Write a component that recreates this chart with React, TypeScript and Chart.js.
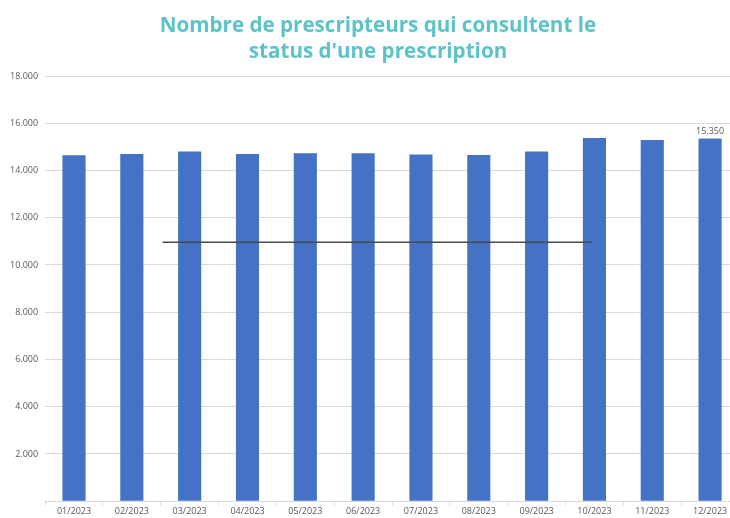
import React, { useEffect, useRef } from "react";
import { Chart, registerables } from "chart.js";

Chart.register(...registerables);

const TITLE_LINES = ["Nombre de prescripteurs qui consultent le", "status d'une prescription"];
const MONTHS = ["01/2023", "02/2023", "03/2023", "04/2023", "05/2023", "06/2023", "07/2023", "08/2023", "09/2023", "10/2023", "11/2023", "12/2023"];
const PRESCRIBERS = [14650, 14700, 14800, 14700, 14730, 14730, 14680, 14660, 14800, 15380, 15290, 15350];
const LINE_X = [1.53, 8.95];
const LINE_Y = [10960, 10960];
const Y_MAX = 18000;
const Y_STEP = 2000;
const LABELED_INDEX = 11;

const fmt = (v: number) => {
  const s = Math.round(v).toString();
  return s.replace(/\B(?=(\d{3})+(?!\d))/g, ".");
};

const titlePlugin = {
  id: "customTitle",
  afterDraw(chart: any) {
    const ctx = chart.ctx;
    ctx.save();
    ctx.font = "bold 20.6px 'Open Sans'";
    ctx.fillStyle = "#5cc3c8";
    ctx.textAlign = "center";
    ctx.textBaseline = "alphabetic";
    const cx = 378;
    TITLE_LINES.forEach((line, i) => ctx.fillText(line, cx, 32 + i * 26));
    ctx.restore();
  },
};

const valueLabelPlugin = {
  id: "valueLabel",
  afterDatasetsDraw(chart: any) {
    const meta = chart.getDatasetMeta(0);
    const el = meta.data[LABELED_INDEX];
    if (!el) return;
    const ctx = chart.ctx;
    ctx.save();
    ctx.font = "9px 'Open Sans'";
    ctx.fillStyle = "#595959";
    ctx.textAlign = "center";
    ctx.textBaseline = "bottom";
    ctx.fillText(fmt(PRESCRIBERS[LABELED_INDEX]), el.x, el.y - 3);
    ctx.restore();
  },
};

export default function App() {
  const ref = useRef<HTMLCanvasElement>(null);
  useEffect(() => {
    if (!ref.current) return;
    const chart = new Chart(ref.current, {
      type: "bar",
      data: {
        labels: MONTHS,
        datasets: [
          {
            type: "bar",
            data: PRESCRIBERS,
            backgroundColor: "#4472C4",
            barPercentage: 0.4,
            categoryPercentage: 1,
            grouped: false,
            order: 2,
          } as any,
          {
            type: "line",
            xAxisID: "x2",
            data: LINE_X.map((x, i) => ({ x, y: LINE_Y[i] })),
            borderColor: "#4a4a4a",
            borderWidth: 1.5,
            pointRadius: 0,
            order: 1,
          } as any,
        ],
      },
      options: {
        responsive: false,
        animation: false,
        layout: { padding: { left: 3, right: 17, top: 76, bottom: 0 } },
        plugins: {
          legend: { display: false },
          tooltip: { enabled: false },
          title: { display: false },
        },
        scales: {
          x: {
            offset: true,
            grid: { display: true, drawOnChartArea: false, drawTicks: true, tickLength: 4, offset: true, color: "#d9d9d9" },
            border: { display: true, color: "#d9d9d9" },
            ticks: { color: "#595959", font: { family: "'Open Sans'", size: 9 }, padding: 1, maxRotation: 0, autoSkip: false },
          },
          x2: {
            type: "linear",
            display: false,
            offset: false,
            min: -0.5,
            max: MONTHS.length - 0.5,
            grid: { offset: false },
          },
          y: {
            min: 0,
            max: Y_MAX,
            ticks: {
              stepSize: Y_STEP,
              color: "#595959",
              font: { family: "'Open Sans'", size: 9 },
              padding: 7,
              callback: (v: any) => (v === 0 ? "" : fmt(Number(v))),
            },
            grid: { color: "#d9d9d9", drawTicks: false },
            border: { display: false },
          },
        },
      },
      plugins: [valueLabelPlugin, titlePlugin],
    });
    return () => chart.destroy();
  }, []);
  return (
    <div style={{ position: "fixed", left: 0, top: 0, width: 730, height: 518, overflow: "hidden", background: "#fff" }}>
      <canvas ref={ref} width={756} height={518} style={{ display: "block" }} />
    </div>
  );
}
